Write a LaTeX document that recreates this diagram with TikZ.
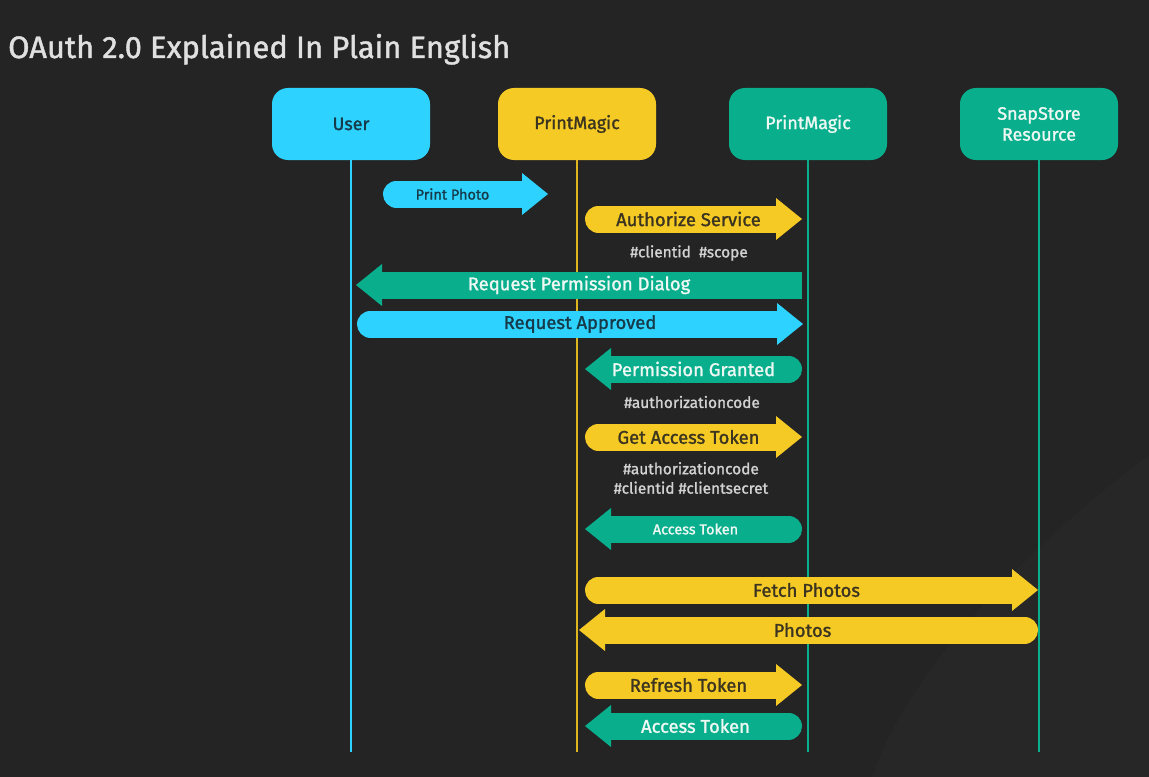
\documentclass[tikz,border=0pt]{standalone}
\usepackage{fontspec}
\setmainfont{Fira Sans}[FakeBold=1.4]
\usetikzlibrary{arrows.meta}

\definecolor{bg}{HTML}{242424}
\definecolor{bgshade}{HTML}{272727}
\definecolor{sky}{HTML}{2DD3FE}
\definecolor{gold}{HTML}{F5CA24}
\definecolor{teal}{HTML}{09AE8D}
\definecolor{skytext}{HTML}{173A4A}
\definecolor{goldtext}{HTML}{3B3420}
\definecolor{tealtext}{HTML}{EEF8F3}
\definecolor{tagtext}{HTML}{D2D2D2}

\tikzset{
  actor/.style={rounded corners=16bp, minimum width=158bp, minimum height=72bp,
    align=center, inner sep=0pt, font=\fontsize{18}{21}\selectfont},
  lifeline/.style={line width=2bp},
  msg/.style={line width=27bp, line cap=round, shorten <=13.5bp,
    -{Triangle[width=42bp, length=26bp, line width=0pt]}},
  msgtext/.style={inner sep=0pt, font=\fontsize{18.5}{21}\selectfont},
  smalltext/.style={inner sep=0pt, font=\fontsize{14.5}{17}\selectfont},
  tag/.style={inner sep=0pt, align=center, text=tagtext,
    font=\fontsize{15.5}{19.5}\selectfont},
}

\begin{document}
\begin{tikzpicture}[x=1bp, y=-1bp]
  \fill[bg] (0,0) rectangle (1149,777);
  \useasboundingbox (0,0) rectangle (1149,777);
  \fill[bgshade] (1149,455) .. controls (1010,560) and (905,680) .. (872,777)
    -- (1149,777) -- cycle;

  \node[anchor=base west, text=white!88!black, inner sep=0pt,
    font=\fontsize{31}{36}\selectfont] (title) at (8,58)
    {OAuth 2.0 Explained In Plain English};

  % participants
  \node[actor, fill=sky, text=skytext] (user) at (351,124) {User};
  \node[actor, fill=gold, text=goldtext] (pmy) at (577,124) {PrintMagic};
  \node[actor, fill=teal, text=tealtext] (pmg) at (808,124) {PrintMagic};
  \node[actor, fill=teal, text=tealtext] (snap) at (1039,124) {SnapStore\\Resource};

  \coordinate (bottom) at (0,752);
  \foreach \n/\c in {user/sky, pmy/gold!90!black, pmg/teal, snap/teal}
    \draw[lifeline, \c] (\n.south) -- (\n |- bottom);

  % rows of messages
  \foreach \r/\y in {r1/194, r2/219, r3/285, r4/324, r5/369, r6/437,
      r7/529, r8/590, r9/630, r10/685, r11/726}
    \coordinate (\r) at (0,\y);

  \draw[msg, sky] ([xshift=32bp]user |- r1) -- ([xshift=-29bp]pmy |- r1)
    node[midway, smalltext, text=skytext, xshift=-13bp] (m1) {Print Photo};
  \draw[msg, gold] ([xshift=8bp]pmy |- r2) -- ([xshift=-6bp]pmg |- r2)
    node[midway, msgtext, text=goldtext, xshift=-5bp] (m2) {Authorize Service};
  \node[tag] (t2) at (689,253) {\#clientid\ \ \#scope};
  \draw[msg, teal, line cap=butt, shorten <=0pt] ([xshift=-6bp]pmg |- r3)
    -- ([xshift=5bp]user |- r3)
    node[midway, msgtext, text=tealtext] (m3) {Request Permission Dialog};
  \draw[msg, sky] ([xshift=6bp]user |- r4) -- ([xshift=-5bp]pmg |- r4)
    node[midway, msgtext, text=skytext] (m4) {Request Approved};
  \draw[msg, teal] ([xshift=-6bp]pmg |- r5) -- ([xshift=8bp]pmy |- r5)
    node[midway, msgtext, text=tealtext] (m5) {Permission Granted};
  \node[tag] (t5) at (692,402) {\#authorizationcode};
  \draw[msg, gold] ([xshift=8bp]pmy |- r6) -- ([xshift=-6bp]pmg |- r6)
    node[midway, msgtext, text=goldtext, xshift=-5bp] (m6) {Get Access Token};
  \node[tag] (t6) at (691,478) {\#authorizationcode\\\#clientid \#clientsecret};
  \draw[msg, teal] ([xshift=-6bp]pmg |- r7) -- ([xshift=8bp]pmy |- r7)
    node[midway, smalltext, text=tealtext, xshift=2bp] (m7) {Access Token};
  \draw[msg, gold] ([xshift=8bp]pmy |- r8) -- ([xshift=-1bp]snap |- r8)
    node[midway, msgtext, text=goldtext, xshift=-5bp] (m8) {Fetch Photos};
  \draw[msg, gold] ([xshift=-1bp]snap |- r9) -- ([xshift=2bp]pmy |- r9)
    node[midway, msgtext, text=goldtext, xshift=-6bp] (m9) {Photos};
  \draw[msg, gold] ([xshift=8bp]pmy |- r10) -- ([xshift=-6bp]pmg |- r10)
    node[midway, msgtext, text=goldtext, xshift=-5bp] (m10) {Refresh Token};
  \draw[msg, teal] ([xshift=-6bp]pmg |- r11) -- ([xshift=8bp]pmy |- r11)
    node[midway, msgtext, text=tealtext, xshift=2bp] (m11) {Access Token};
\end{tikzpicture}
\end{document}
